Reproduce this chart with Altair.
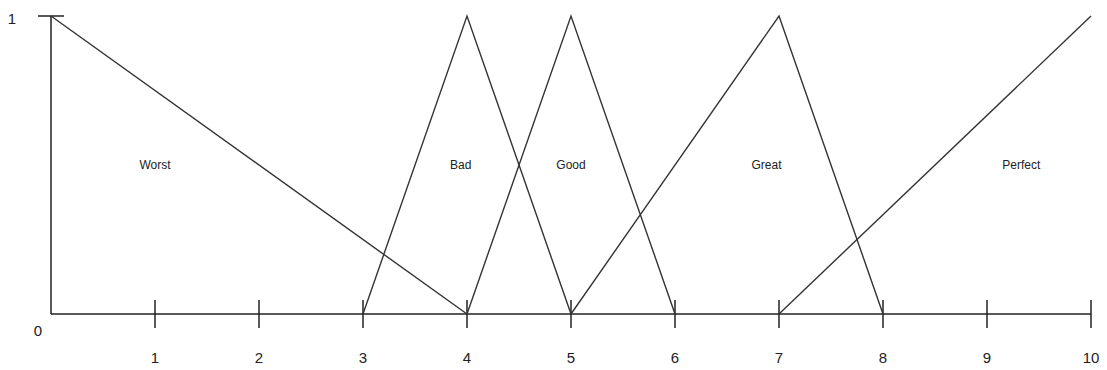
import altair as alt
import pandas as pd

# Membership functions (x, y vertices)
series_names = ["Worst", "Bad", "Good", "Great", "Perfect"]
series_x = [[0, 4], [3, 4, 5], [4, 5, 6], [5, 7, 8], [7, 10]]
series_y = [[1, 0], [0, 1, 0], [0, 1, 0], [0, 1, 0], [0, 1]]

# Region labels
label_text = ["Worst", "Bad", "Good", "Great", "Perfect"]
label_x = [1.0, 3.94, 5.0, 6.88, 9.33]
label_y = [0.5, 0.5, 0.5, 0.5, 0.5]

# Axis ticks
x_ticks = [1, 2, 3, 4, 5, 6, 7, 8, 9, 10]

W, H = 1040, 298
LINE = "#333333"
AX = "#222222"
FONT = "Liberation Sans"

rows = []
for name, xs, ys in zip(series_names, series_x, series_y):
    for i, (a, b) in enumerate(zip(xs, ys)):
        rows.append({"series": name, "x": a, "y": b, "order": i})
lines_df = pd.DataFrame(rows)
labels_df = pd.DataFrame({"text": label_text, "x": label_x, "y": label_y})
ticks_df = pd.DataFrame({"x": x_ticks, "label": [str(t) for t in x_ticks]})

xs = alt.Scale(domain=[0, 10], nice=False, zero=False)
ys = alt.Scale(domain=[0, 1], nice=False, zero=False)

lines = alt.Chart(lines_df).mark_line(color=LINE, strokeWidth=1.4).encode(
    x=alt.X("x:Q", scale=xs, axis=None),
    y=alt.Y("y:Q", scale=ys, axis=None),
    detail="series:N",
    order="order:Q",
)

labels = alt.Chart(labels_df).mark_text(font=FONT, fontSize=12, color="#222222").encode(
    x=alt.X("x:Q", scale=xs, axis=None),
    y=alt.Y("y:Q", scale=ys, axis=None),
    text="text:N",
)

axis_df = pd.DataFrame({"x": [0], "x2": [10], "y": [0], "y2": [1]})
x_axis = alt.Chart(axis_df).mark_rule(color=AX, strokeWidth=1.5).encode(
    x=alt.X("x:Q", scale=xs, axis=None),
    x2="x2:Q",
    y=alt.Y("y:Q", scale=ys, axis=None),
)
y_axis = alt.Chart(axis_df).mark_rule(color=AX, strokeWidth=1.5).encode(
    x=alt.X("x:Q", scale=xs, axis=None),
    y=alt.Y("y:Q", scale=ys, axis=None),
    y2="y2:Q",
)
top_tick = alt.Chart(axis_df).mark_rule(color=AX, strokeWidth=1.5).encode(
    x=alt.value(-13),
    x2=alt.value(13),
    y=alt.Y("y2:Q", scale=ys, axis=None),
)

x_tick_marks = alt.Chart(ticks_df).mark_rule(color=AX, strokeWidth=1.5).encode(
    x=alt.X("x:Q", scale=xs, axis=None),
    y=alt.value(H - 14),
    y2=alt.value(H + 14),
)
x_tick_labels = alt.Chart(ticks_df).mark_text(
    font=FONT, fontSize=15, color="#222222", baseline="middle"
).encode(
    x=alt.X("x:Q", scale=xs, axis=None),
    y=alt.value(H + 44),
    text="label:N",
)

zero_df = pd.DataFrame({"t": ["0", "1"], "px": [-13, -39], "py": [H + 17, 3]})
zero_one = alt.Chart(zero_df).mark_text(
    font=FONT, fontSize=15, color="#222222", baseline="middle"
).encode(
    x=alt.X("px:Q", scale=None, axis=None),
    y=alt.Y("py:Q", scale=None, axis=None),
    text="t:N",
)

chart = alt.layer(
    x_axis, y_axis, top_tick, x_tick_marks, lines, labels, x_tick_labels, zero_one
).properties(
    width=W,
    height=H,
    background="white",
    autosize=alt.AutoSizeParams(type="none"),
    padding={"left": 43, "top": 8, "right": 8, "bottom": 56},
).configure_view(stroke=None)

chart.save("out.html", embed_options={"renderer": "svg", "actions": False})
